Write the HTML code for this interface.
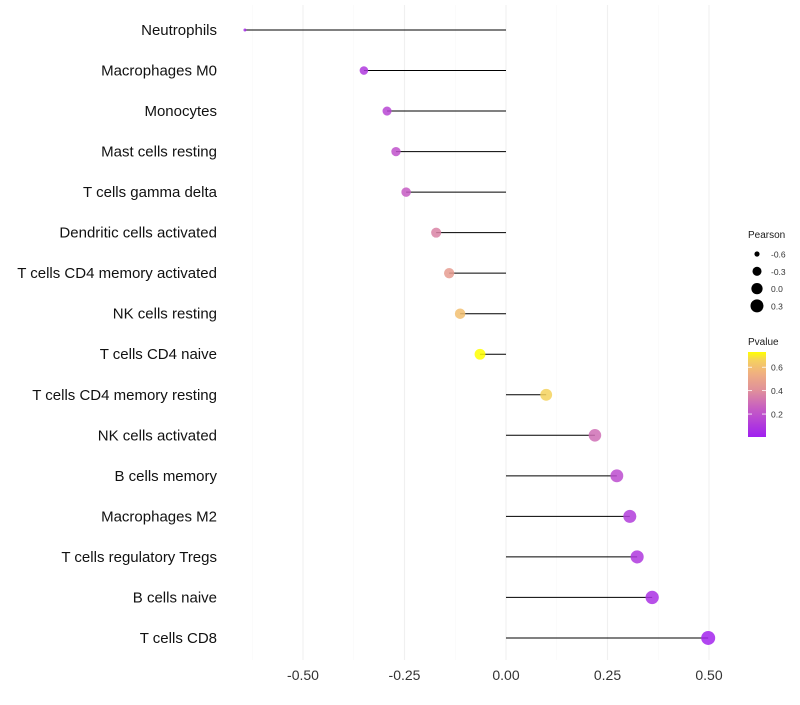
<!DOCTYPE html>
<html><head><meta charset="utf-8"><style>
body{margin:0;background:#fff;font-family:"Liberation Sans",sans-serif}
</style></head><body>
<svg id="chart" width="800" height="700" xmlns="http://www.w3.org/2000/svg"></svg>
<script>
const categories=["Neutrophils","Macrophages M0","Monocytes","Mast cells resting","T cells gamma delta","Dendritic cells activated","T cells CD4 memory activated","NK cells resting","T cells CD4 naive","T cells CD4 memory resting","NK cells activated","B cells memory","Macrophages M2","T cells regulatory  Tregs ","B cells naive","T cells CD8"];
const pearson=[-0.643,-0.35,-0.293,-0.271,-0.246,-0.172,-0.14,-0.113,-0.064,0.099,0.219,0.273,0.305,0.323,0.36,0.498];
const pvalue=[0.05,0.1,0.15,0.2,0.24,0.36,0.46,0.6,0.73,0.66,0.3,0.18,0.12,0.1,0.07,0.02];
const xTicks=[-0.5,-0.25,0,0.25,0.5];
const xTickLabels=["-0.50","-0.25","0.00","0.25","0.50"];
const sizeLegend=[-0.6,-0.3,0.0,0.3];
const sizeLegendLabels=["-0.6","-0.3","0.0","0.3"];
const pLegend=[0.2,0.4,0.6];

const NS="http://www.w3.org/2000/svg";
const svg=document.getElementById('chart');
const x=v=>506+v*406;
const y=i=>30+i*40.53;
const r=v=>1.5+5.15*Math.sqrt(Math.max(0,v+0.643));
const pMin=0.004,pMax=0.73;
const cStops=[[0,[160,32,240]],[0.35,[200,96,192]],[0.55,[224,144,154]],[0.75,[240,176,128]],[0.9,[245,208,96]],[1,[255,255,0]]];
function col(p){const t=Math.max(0,Math.min(1,(p-pMin)/(pMax-pMin)));
 let k=0;while(k<cStops.length-2&&t>cStops[k+1][0])k++;
 const [t0,a]=cStops[k],[t1,b]=cStops[k+1];const u=(t-t0)/(t1-t0);
 return `rgb(${a.map((c,j)=>Math.round(c+(b[j]-c)*u)).join(',')})`;}
function mk(tag,attrs,parent){const e=document.createElementNS(NS,tag);for(const k in attrs)e.setAttribute(k,attrs[k]);(parent||svg).appendChild(e);return e;}

const grid=mk('g',{});


[-0.625,-0.375,-0.125,0.125,0.375].forEach(v=>mk('line',{x1:x(v),x2:x(v),y1:5,y2:660,stroke:'#f7f7f7','stroke-width':0.6},grid));
xTicks.forEach(v=>mk('line',{x1:x(v),x2:x(v),y1:5,y2:660,stroke:'#f0f0f0','stroke-width':1.1},grid));

categories.forEach((c,i)=>{
 const t=mk('text',{x:217,y:y(i)+5,'text-anchor':'end','font-size':15,fill:'#111'});
 t.textContent=c;
 
 
 const s=mk('line',{x1:x(0),x2:x(pearson[i]),y1:y(i),y2:y(i),stroke:'#000','stroke-width':1});
 
 
 const p=mk('circle',{cx:x(pearson[i]),cy:y(i),r:r(pearson[i]),fill:col(pvalue[i]),'fill-opacity':0.85});
 
 
});
xTicks.forEach((v,i)=>{
 const t=mk('text',{x:x(v),y:680,'text-anchor':'middle','font-size':14,fill:'#333'});
 t.textContent=xTickLabels[i];
 
 
});
const lg=mk('g',{});


const lt=mk('text',{x:748,y:238,'font-size':10,fill:'#1a1a1a'},lg);lt.textContent='Pearson';
sizeLegend.forEach((v,i)=>{
 const cy=254+i*17.3;
 mk('circle',{cx:757,cy:cy,r:r(v),fill:'#000'},lg);
 const t=mk('text',{x:771,y:cy+3.5,'font-size':8.5,fill:'#333'},lg);t.textContent=sizeLegendLabels[i];
});
const cg=mk('g',{});


const ct=mk('text',{x:748,y:345,'font-size':10,fill:'#1a1a1a'},cg);ct.textContent='Pvalue';
const defs=mk('defs',{});
const gr=mk('linearGradient',{id:'pg',x1:0,y1:1,x2:0,y2:0},defs);
for(let k=0;k<=20;k++){const p=pMin+(pMax-pMin)*k/20;mk('stop',{offset:k/20,'stop-color':col(p)},gr);}
const legTop=352,legBot=437;
mk('rect',{x:748,y:legTop,width:18,height:legBot-legTop,fill:'url(#pg)'},cg);
const py=p=>legBot-(p-pMin)/(pMax-pMin)*(legBot-legTop);
pLegend.forEach(p=>{
 mk('line',{x1:748,x2:752,y1:py(p),y2:py(p),stroke:'#fff','stroke-width':0.8},cg);
 mk('line',{x1:762,x2:766,y1:py(p),y2:py(p),stroke:'#fff','stroke-width':0.8},cg);
 const t=mk('text',{x:771,y:py(p)+3.5,'font-size':8.5,fill:'#333'},cg);t.textContent=p.toFixed(1);
});
</script>
</body></html>
